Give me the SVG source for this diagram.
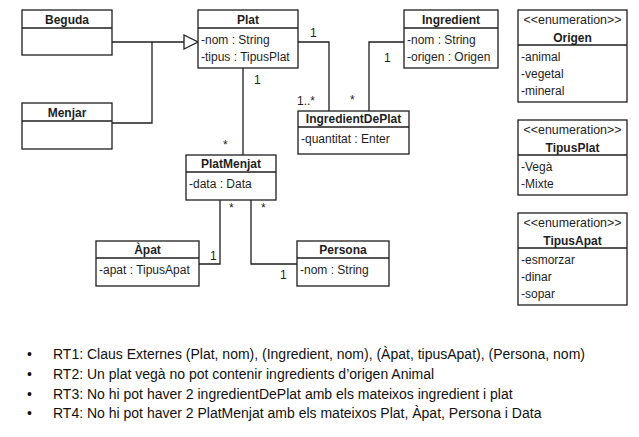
<svg xmlns="http://www.w3.org/2000/svg" width="639" height="437" viewBox="0 0 639 437">
<style>
.box{fill:#fff;stroke:#1e1e1e;stroke-width:1.3}
.sep{stroke:#1e1e1e;stroke-width:1.3}
.t{font-family:"Liberation Sans",Arial,sans-serif;font-size:12px;fill:#1e1e1e}
.b{font-weight:bold;text-anchor:middle}
.st{font-size:12.4px;text-anchor:middle}
.c{fill:none;stroke:#1e1e1e;stroke-width:1.3}
.rt{font-family:"Liberation Sans",Arial,sans-serif;font-size:14px;fill:#111}
</style>
<rect width="639" height="437" fill="#fff"/>
<g id="connectors">
<path class="c" d="M112 42H184M112 123H152V42"/>
<polygon points="184,35 198,42 184,49" fill="#fff" stroke="#1e1e1e" stroke-width="1.3"/>
<path class="c" d="M243 68V155"/>
<path class="c" d="M298 42H329V111"/>
<path class="c" d="M404 42H369V111"/>
<path class="c" d="M220 200V264H199"/>
<path class="c" d="M251 200V264H297"/>
<text class="t" x="254" y="84">1</text>
<text class="t" x="223" y="149">*</text>
<text class="t" x="310" y="37">1</text>
<text class="t" x="297" y="105">1..*</text>
<text class="t" x="384" y="62">1</text>
<text class="t" x="350" y="104">*</text>
<text class="t" x="210" y="260">1</text>
<text class="t" x="229" y="212">*</text>
<text class="t" x="280" y="279">1</text>
<text class="t" x="261" y="212">*</text>
</g>
<g id="Beguda">
<rect class="box" x="22" y="10" width="90" height="45"/>
<line class="sep" x1="22" y1="28" x2="112" y2="28"/>
<text class="t b" x="67" y="24">Beguda</text>
</g>
<g id="Menjar">
<rect class="box" x="22" y="103" width="90" height="46"/>
<line class="sep" x1="22" y1="121" x2="112" y2="121"/>
<text class="t b" x="67" y="117">Menjar</text>
</g>
<g id="Plat">
<rect class="box" x="198" y="10" width="100" height="58"/>
<line class="sep" x1="198" y1="28" x2="298" y2="28"/>
<text class="t b" x="248" y="24">Plat</text>
<text class="t" x="201" y="44">-nom : String</text>
<text class="t" x="201" y="61">-tipus : TipusPlat</text>
</g>
<g id="Ingredient">
<rect class="box" x="404" y="10" width="94" height="58"/>
<line class="sep" x1="404" y1="28" x2="498" y2="28"/>
<text class="t b" x="451" y="24">Ingredient</text>
<text class="t" x="407" y="44">-nom : String</text>
<text class="t" x="407" y="61">-origen : Origen</text>
</g>
<g id="IngredientDePlat">
<rect class="box" x="298" y="111" width="111" height="43"/>
<line class="sep" x1="298" y1="127" x2="409" y2="127"/>
<text class="t b" x="353.5" y="123">IngredientDePlat</text>
<text class="t" x="301" y="143">-quantitat : Enter</text>
</g>
<g id="PlatMenjat">
<rect class="box" x="186" y="155" width="90" height="45"/>
<line class="sep" x1="186" y1="172" x2="276" y2="172"/>
<text class="t b" x="231" y="168">PlatMenjat</text>
<text class="t" x="189" y="188">-data : Data</text>
</g>
<g id="Apat">
<rect class="box" x="96" y="241" width="103" height="45"/>
<line class="sep" x1="96" y1="258" x2="199" y2="258"/>
<text class="t b" x="147.5" y="254">Àpat</text>
<text class="t" x="99" y="274">-apat : TipusApat</text>
</g>
<g id="Persona">
<rect class="box" x="297" y="241" width="92" height="45"/>
<line class="sep" x1="297" y1="258" x2="389" y2="258"/>
<text class="t b" x="343" y="254">Persona</text>
<text class="t" x="300" y="274">-nom : String</text>
</g>
<g id="Origen">
<rect class="box" x="518" y="10" width="109" height="92"/>
<line class="sep" x1="518" y1="45" x2="627" y2="45"/>
<text class="t st" x="572.5" y="24">&lt;&lt;enumeration&gt;&gt;</text>
<text class="t b" x="572.5" y="42">Origen</text>
<text class="t" x="521" y="61">-animal</text>
<text class="t" x="521" y="78">-vegetal</text>
<text class="t" x="521" y="95">-mineral</text>
</g>
<g id="TipusPlat">
<rect class="box" x="518" y="120" width="109" height="75"/>
<line class="sep" x1="518" y1="155" x2="627" y2="155"/>
<text class="t st" x="572.5" y="134">&lt;&lt;enumeration&gt;&gt;</text>
<text class="t b" x="572.5" y="152">TipusPlat</text>
<text class="t" x="521" y="171">-Vegà</text>
<text class="t" x="521" y="188">-Mixte</text>
</g>
<g id="TipusApat">
<rect class="box" x="518" y="213" width="109" height="92"/>
<line class="sep" x1="518" y1="248" x2="627" y2="248"/>
<text class="t st" x="572.5" y="227">&lt;&lt;enumeration&gt;&gt;</text>
<text class="t b" x="572.5" y="245">TipusApat</text>
<text class="t" x="521" y="264">-esmorzar</text>
<text class="t" x="521" y="281">-dinar</text>
<text class="t" x="521" y="298">-sopar</text>
</g>
<g id="rules">
<text class="rt" x="27" y="359">•</text>
<text class="rt" x="27" y="379">•</text>
<text class="rt" x="27" y="399">•</text>
<text class="rt" x="27" y="418">•</text>
<text class="rt" x="53" y="359">RT1: Claus Externes (Plat, nom), (Ingredient, nom), (Àpat, tipusApat), (Persona, nom)</text>
<text class="rt" x="53" y="379">RT2: Un plat vegà no pot contenir ingredients d’origen Animal</text>
<text class="rt" x="53" y="399">RT3: No hi pot haver 2 ingredientDePlat amb els mateixos ingredient i plat</text>
<text class="rt" x="53" y="418">RT4: No hi pot haver 2 PlatMenjat amb els mateixos Plat, Àpat, Persona i Data</text>
</g>
</svg>
